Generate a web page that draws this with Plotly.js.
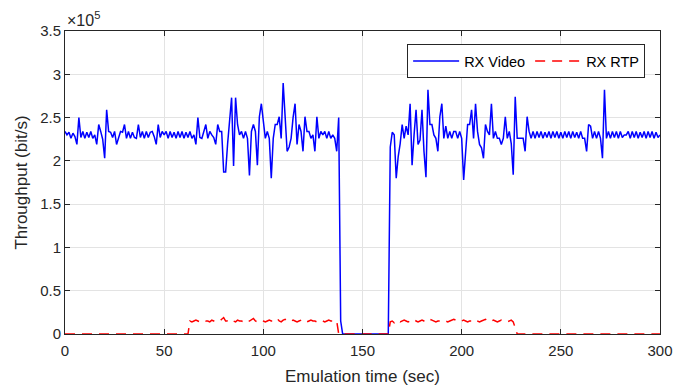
<!DOCTYPE html>
<html>
<head>
<meta charset="utf-8">
<script src="https://cdn.plot.ly/plotly-3.0.1.min.js"></script>
<style>
  html, body { margin: 0; padding: 0; background: #ffffff; }
  #chart { width: 675px; height: 388px; }
</style>
</head>
<body>
<div id="chart"></div>
<script>
// Time axis: one sample per second, starting at 0 s
var timeStart = 0;
var timeStep = 1;

// Throughput in units of 1e5 bit/s (axis shows x10^5)
var rxVideo = [
  2.34, 2.30, 2.33, 2.26, 2.32, 2.28, 2.19, 2.50, 2.27, 2.34,
  2.26, 2.33, 2.27, 2.34, 2.26, 2.30, 2.19, 2.42, 2.34, 2.25,
  2.03, 2.59, 2.34, 2.33, 2.27, 2.34, 2.19, 2.28, 2.34, 2.33,
  2.42, 2.26, 2.34, 2.26, 2.33, 2.27, 2.26, 2.42, 2.27, 2.34,
  2.26, 2.34, 2.27, 2.33, 2.34, 2.28, 2.19, 2.42, 2.27, 2.34,
  2.30, 2.34, 2.26, 2.34, 2.27, 2.33, 2.26, 2.34, 2.27, 2.34,
  2.26, 2.33, 2.27, 2.34, 2.26, 2.30, 2.19, 2.50, 2.27, 2.26,
  2.34, 2.42, 2.26, 2.34, 2.30, 2.27, 2.19, 2.42, 2.34, 2.34,
  1.87, 1.87, 2.20, 2.50, 2.73, 1.94, 2.73, 2.42, 2.30, 2.34,
  2.26, 2.34, 2.26, 1.83, 2.34, 2.42, 2.34, 1.95, 2.51, 2.66,
  2.42, 2.26, 2.34, 2.26, 1.80, 2.26, 2.42, 2.42, 2.51, 2.26,
  2.90, 2.51, 2.11, 2.16, 2.26, 2.50, 2.66, 2.19, 2.42, 2.34,
  2.11, 2.51, 2.34, 2.34, 2.26, 2.30, 2.11, 2.51, 2.26, 2.34,
  2.30, 2.34, 2.26, 2.34, 2.26, 2.30, 2.26, 2.11, 2.50, 0.15,
  0, 0, 0, 0, 0, 0, 0, 0, 0, 0,
  0, 0, 0, 0, 0, 0, 0, 0, 0, 0,
  0, 0, 0, 0, 2.16, 2.33, 2.30, 1.80, 2.05, 2.20,
  2.42, 2.26, 2.40, 2.30, 2.66, 1.95, 2.30, 2.59, 2.19, 2.24,
  2.59, 2.11, 1.81, 2.82, 2.42, 2.42, 2.30, 2.26, 2.11, 2.51,
  2.66, 2.26, 2.40, 2.26, 2.34, 2.26, 2.34, 2.34, 2.26, 2.34,
  2.26, 1.78, 2.10, 2.42, 2.42, 2.59, 2.26, 2.66, 2.34, 2.19,
  2.15, 2.03, 2.42, 2.34, 2.30, 2.66, 2.26, 2.34, 2.26, 2.26,
  2.19, 2.26, 2.51, 2.26, 2.34, 2.20, 1.84, 2.74, 2.26, 2.26,
  2.26, 2.26, 2.11, 2.51, 2.34, 2.26, 2.34, 2.26, 2.34, 2.27,
  2.34, 2.26, 2.33, 2.27, 2.34, 2.26, 2.34, 2.27, 2.34, 2.26,
  2.33, 2.26, 2.34, 2.27, 2.34, 2.26, 2.34, 2.27, 2.33, 2.26,
  2.34, 2.26, 2.26, 2.11, 2.42, 2.40, 2.26, 2.34, 2.26, 2.34,
  2.26, 2.03, 2.82, 2.26, 2.34, 2.26, 2.34, 2.27, 2.34, 2.26,
  2.34, 2.27, 2.30, 2.30, 2.34, 2.26, 2.34, 2.27, 2.34, 2.26,
  2.33, 2.27, 2.34, 2.26, 2.34, 2.27, 2.34, 2.26, 2.33, 2.27,
  2.30
];

var rxRtp = [
  0, 0, 0, 0, 0, 0, 0, 0, 0, 0,
  0, 0, 0, 0, 0, 0, 0, 0, 0, 0,
  0, 0, 0, 0, 0, 0, 0, 0, 0, 0,
  0, 0, 0, 0, 0, 0, 0, 0, 0, 0,
  0, 0, 0, 0, 0, 0, 0, 0, 0, 0,
  0, 0, 0, 0, 0, 0, 0, 0, 0, 0,
  0, 0, 0, 0.15, 0.14, 0.15, 0.16, 0.15, 0.14, 0.15,
  0.16, 0.15, 0.15, 0.14, 0.16, 0.15, 0.14, 0.15, 0.15, 0.17,
  0.19, 0.15, 0.15, 0.14, 0.16, 0.15, 0.14, 0.16, 0.15, 0.15,
  0.14, 0.16, 0.15, 0.15, 0.17, 0.18, 0.15, 0.14, 0.15, 0.16,
  0.15, 0.14, 0.15, 0.16, 0.15, 0.15, 0.17, 0.18, 0.15, 0.14,
  0.16, 0.17, 0.15, 0.14, 0.15, 0.16, 0.15, 0.14, 0.15, 0.16,
  0.17, 0.15, 0.14, 0.15, 0.16, 0.15, 0.15, 0.14, 0.15, 0.16,
  0.15, 0.14, 0.15, 0.16, 0.15, 0.15, 0.14, 0.15, 0, 0,
  0, 0, 0, 0, 0, 0, 0, 0, 0, 0,
  0, 0, 0, 0, 0, 0, 0, 0, 0, 0,
  0, 0, 0, 0, 0.14, 0.15, 0.13, 0.15, 0.16, 0.14,
  0.15, 0.16, 0.15, 0.14, 0.15, 0.16, 0.17, 0.15, 0.14, 0.15,
  0.16, 0.15, 0.14, 0.15, 0.17, 0.16, 0.15, 0.14, 0.15, 0.15,
  0.16, 0.15, 0.15, 0.14, 0.15, 0.16, 0.17, 0.16, 0.15, 0.14,
  0.15, 0.16, 0.15, 0.14, 0.15, 0.15, 0.17, 0.16, 0.15, 0.14,
  0.15, 0.16, 0.17, 0.15, 0.14, 0.15, 0.16, 0.15, 0.14, 0.15,
  0.16, 0.15, 0.15, 0.14, 0.15, 0.16, 0.14, 0.08, 0, 0,
  0, 0, 0, 0, 0, 0, 0, 0, 0, 0,
  0, 0, 0, 0, 0, 0, 0, 0, 0, 0,
  0, 0, 0, 0, 0, 0, 0, 0, 0, 0,
  0, 0, 0, 0, 0, 0, 0, 0, 0, 0,
  0, 0, 0, 0, 0, 0, 0, 0, 0, 0,
  0, 0, 0, 0, 0, 0, 0, 0, 0, 0,
  0, 0, 0, 0, 0, 0, 0, 0, 0, 0,
  0
];

var seriesNames = ['RX Video', 'RX RTP'];
var xTitle = 'Emulation time (sec)';
var yTitle = 'Throughput (bit/s)';
var yExponent = '\u00d710<sup>5</sup>';

var axisColor = '#262626';
var gridColor = '#e3e3e3';
var fontFamily = 'Liberation Sans, Arial, Helvetica, sans-serif';

var traces = [
  {
    type: 'scatter', mode: 'lines', name: seriesNames[0],
    x0: timeStart, dx: timeStep, y: rxVideo,
    line: { color: '#0000ff', width: 1.5 }
  },
  {
    type: 'scatter', mode: 'lines', name: seriesNames[1],
    x0: timeStart, dx: timeStep, y: rxRtp,
    line: { color: '#ff0000', width: 1.5, dash: '10px,7px' }
  }
];

var layout = {
  width: 675, height: 388,
  margin: { l: 65, r: 15, t: 31, b: 54 },
  paper_bgcolor: '#ffffff', plot_bgcolor: '#ffffff',
  font: { family: fontFamily, size: 15, color: axisColor },
  showlegend: true,
  legend: {
    orientation: 'h', x: 0.975, xanchor: 'right', y: 0.957, yanchor: 'top',
    bgcolor: '#ffffff', bordercolor: axisColor, borderwidth: 1,
    font: { family: fontFamily, size: 14.5, color: '#000000' },
    itemwidth: 46, tracegroupgap: 0
  },
  xaxis: {
    range: [0, 300], dtick: 50, tick0: 0,
    ticks: 'inside', ticklen: 5, tickwidth: 1, tickcolor: axisColor,
    showline: true, linecolor: axisColor, linewidth: 1, mirror: 'ticks',
    showgrid: true, gridcolor: gridColor, gridwidth: 1, zeroline: false,
    tickfont: { size: 15, color: axisColor },
    ticklabelstandoff: 3,
    title: { text: xTitle, font: { size: 17, color: axisColor }, standoff: 12 }
  },
  yaxis: {
    range: [0, 3.5], dtick: 0.5, tick0: 0,
    ticks: 'inside', ticklen: 5, tickwidth: 1, tickcolor: axisColor,
    showline: true, linecolor: axisColor, linewidth: 1, mirror: 'ticks',
    showgrid: true, gridcolor: gridColor, gridwidth: 1, zeroline: false,
    tickfont: { size: 15, color: axisColor },
    title: { text: yTitle, font: { size: 17, color: axisColor }, standoff: 8 }
  },
  annotations: [
    {
      xref: 'paper', yref: 'paper', x: 0, y: 1,
      xanchor: 'left', yanchor: 'bottom', yshift: 0,
      text: yExponent, showarrow: false,
      font: { family: fontFamily, size: 16, color: axisColor }
    }
  ]
};

Plotly.newPlot('chart', traces, layout, { displayModeBar: false, staticPlot: true });
</script>
</body>
</html>
